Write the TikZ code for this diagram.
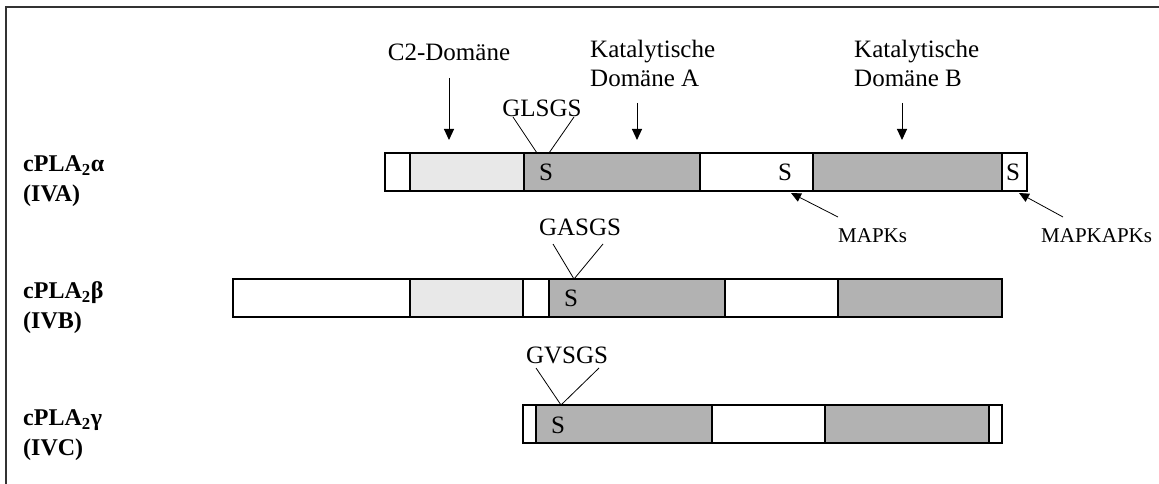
\documentclass[tikz,border=0pt]{standalone}
\usepackage{fontspec}
\setmainfont{Liberation Serif}
\usetikzlibrary{arrows.meta}
\definecolor{lightfill}{HTML}{E8E8E8}
\definecolor{darkfill}{HTML}{B2B2B2}
\definecolor{framegray}{HTML}{333333}
\tikzset{
  seg/.style={draw=black, line width=1.3pt},
  txt/.style={inner sep=0pt, font=\fontsize{25}{29}\selectfont, align=left},
  smalltxt/.style={inner sep=0pt, font=\fontsize{21}{24}\selectfont},
  rowlabel/.style={inner sep=0pt, anchor=west, font=\bfseries\fontsize{24}{30}\selectfont, align=left},
  downarrow/.style={line width=1pt, -{Triangle[length=11pt,width=10pt]}},
  thinline/.style={line width=0.8pt},
  framelines/.style={draw=framegray, line width=1.6pt}
}
\begin{document}
\begin{tikzpicture}[x=1pt,y=-1pt]
\useasboundingbox (0,0) rectangle (1159,484);
\draw[framelines] (6,486) -- (6,7) -- (1161,7);

% ---- cPLA2 alpha bar
\draw[seg,fill=white]     (385,153) rectangle (410,191);
\draw[seg,fill=lightfill] (410,153) rectangle (524,191);
\draw[seg,fill=darkfill]  (524,153) rectangle (700,191);
\draw[seg,fill=white]     (700,153) rectangle (813,191);
\draw[seg,fill=darkfill]  (813,153) rectangle (1002,191);
\draw[seg,fill=white]     (1002,153) rectangle (1027,191);
\node[txt] (sa1) at (546,172) {S};
\node[txt] (sa2) at (785,172) {S};
\node[txt] (sa3) at (1013,172) {S};

% ---- cPLA2 beta bar
\draw[seg,fill=white]     (233,279) rectangle (410,317);
\draw[seg,fill=lightfill] (410,279) rectangle (523,317);
\draw[seg,fill=white]     (523,279) rectangle (549,317);
\draw[seg,fill=darkfill]  (549,279) rectangle (725,317);
\draw[seg,fill=white]     (725,279) rectangle (838,317);
\draw[seg,fill=darkfill]  (838,279) rectangle (1002,317);
\node[txt] (sb1) at (571,298) {S};

% ---- cPLA2 gamma bar
\draw[seg,fill=white]     (523,405) rectangle (536,443);
\draw[seg,fill=darkfill]  (536,405) rectangle (712,443);
\draw[seg,fill=white]     (712,405) rectangle (825,443);
\draw[seg,fill=darkfill]  (825,405) rectangle (989,443);
\draw[seg,fill=white]     (989,405) rectangle (1002,443);
\node[txt] (sc1) at (558,425) {S};

% ---- row labels
\node[rowlabel] (la) at (23,181) {cPLA\textsubscript{2}α\\(IVA)};
\node[rowlabel] (lb) at (23,308) {cPLA\textsubscript{2}β\\(IVB)};
\node[rowlabel] (lc) at (23,435) {cPLA\textsubscript{2}γ\\(IVC)};

% ---- domain labels and arrows
\node[txt] (c2) at (449,52) {C2-Domäne};
\coordinate (c2a) at (449,78);
\coordinate (c2b) at (449,140);
\draw[downarrow] (c2a) -- (c2b);

\node[txt, anchor=north west] (ka) at (590,40) {Katalytische\\Domäne A};
\coordinate (kaa) at (637,103);
\coordinate (kab) at (637,140);
\draw[downarrow] (kaa) -- (kab);

\node[txt, anchor=north west] (kb) at (854,40) {Katalytische\\Domäne B};
\coordinate (kba) at (902,103);
\coordinate (kbb) at (902,140);
\draw[downarrow] (kba) -- (kbb);

% ---- motif labels with V lines
\node[txt] (glsgs) at (542,108) {GLSGS};
\coordinate (g1) at (513,117);
\coordinate (g2) at (574,117);
\coordinate (g1e) at (537,153);
\coordinate (g2e) at (549,153);
\draw[thinline] (g1) -- (g1e);
\draw[thinline] (g2) -- (g2e);

\node[txt] (gasgs) at (580,227) {GASGS};
\coordinate (h1) at (553,244);
\coordinate (h2) at (603,244);
\coordinate (hm) at (574,279);
\draw[thinline] (h1) -- (hm) -- (h2);

\node[txt] (gvsgs) at (567,355) {GVSGS};
\coordinate (v1) at (536,368);
\coordinate (v2) at (599,368);
\coordinate (vm) at (561,405);
\draw[thinline] (v1) -- (vm) -- (v2);

% ---- kinase labels
\node[smalltxt, anchor=base west] (mapk) at (838,242) {MAPKs};
\coordinate (mk1) at (838,217);
\coordinate (mk2) at (791,193);
\draw[line width=0.8pt, -{Triangle[length=10pt,width=9pt]}] (mk1) -- (mk2);

\node[smalltxt, anchor=base west] (mapkapk) at (1041,242) {MAPKAPKs};
\coordinate (mm1) at (1063,217);
\coordinate (mm2) at (1019,193);
\draw[line width=0.8pt, -{Triangle[length=10pt,width=9pt]}] (mm1) -- (mm2);
\end{tikzpicture}
\end{document}
